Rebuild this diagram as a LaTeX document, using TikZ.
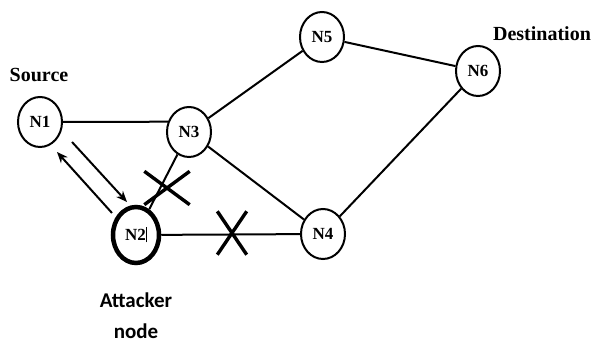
\documentclass[tikz,border=0pt]{standalone}
\usepackage{fontspec}
\setmainfont{Liberation Serif}
\newfontfamily\attfont{Carlito}
\usetikzlibrary{shapes.geometric, shapes.misc, arrows.meta}

\begin{document}
\begin{tikzpicture}[x=1pt,y=-1pt,
  host/.style={draw,ellipse,line width=2pt,minimum width=44pt,minimum height=50pt,inner sep=0pt,
    font=\bfseries\fontsize{17}{17}\selectfont},
  link/.style={line width=2pt},
  cut/.style={draw,cross out,line width=3.4pt,inner sep=0pt},
  tag/.style={font=\bfseries\fontsize{20}{22}\selectfont}]
  \useasboundingbox (0,0) rectangle (598,347);
  \node[host] (n1) at (40,122) {N1};
  \node[host,line width=4.5pt,minimum width=46pt,minimum height=56pt] (n2) at (136,235) {N2\rule[-2pt]{0.8pt}{15pt}}; %攻撃ノード
  \node[host] (n3) at (189,132) {N3};
  \node[host] (n4) at (323,234) {N4};
  \node[host] (n5) at (322,37) {N5};
  \node[host] (n6) at (478,71) {N6};
  \node[tag] (src) at (39,75) {Source};
  \node[tag] (dst) at (542,34) {Destination};
  \node[tag,font=\attfont\bfseries\fontsize{21}{31}\selectfont,align=center] (att) at (136,316) {Attacker\\node};
  \draw[link] (n1.east)--(n3.154);
  \draw[link] (n3)--(n5);
  \draw[link] (n5)--(n6);
  \draw[link] (n6)--(n4);
  \draw[link] (n3)--(n4);
  \draw[link] (n2)--(n4);
  \draw[link] (n2)--(n3);
  \node[cut,minimum width=42pt,minimum height=30pt] (x1) at (167,188) {}; %切断
  \node[cut,minimum width=26pt,minimum height=40pt] (x2) at (232,233) {}; %切断
  \coordinate (a1s) at (72,142);
  \coordinate (a1e) at (127,202);
  \coordinate (a2s) at (112,213);
  \coordinate (a2e) at (57,152);
  \draw[-{Stealth[length=11pt,width=9pt]},line width=2pt] (a1s)--(a1e);
  \draw[-{Stealth[length=11pt,width=9pt]},line width=2pt] (a2s)--(a2e);
\end{tikzpicture}
\end{document}
